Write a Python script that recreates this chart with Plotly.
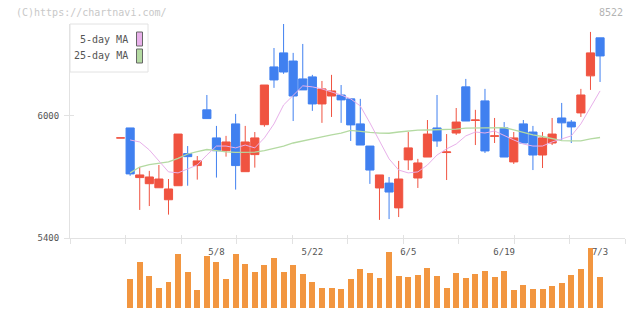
import numpy as np
import plotly.graph_objects as go

# ---------------- data ----------------
dates = ["4/19", "4/22", "4/23", "4/24", "4/25", "4/26", "4/30", "5/1", "5/2", "5/7",
         "5/8", "5/9", "5/10", "5/13", "5/14", "5/15", "5/16", "5/17", "5/20", "5/21",
         "5/22", "5/23", "5/24", "5/27", "5/28", "5/29", "5/30", "5/31", "6/3", "6/4",
         "6/5", "6/6", "6/7", "6/10", "6/11", "6/12", "6/13", "6/14", "6/17", "6/18",
         "6/19", "6/20", "6/21", "6/24", "6/25", "6/26", "6/27", "6/28", "7/1", "7/2",
         "7/3"]

open_ = [5892, 5941, 5697, 5667, 5647, 5588, 5657, 5815, 5756, 6030,
         5892, 5829, 5961, 5726, 5810, 5957, 6241, 6310, 6270, 6182,
         6192, 6059, 6098, 6103, 6084, 5961, 5852, 5646, 5670, 5548,
         5784, 5695, 5798, 5941, 5820, 5916, 6143, 5978, 6074, 5900,
         5941, 5774, 5961, 5921, 5808, 5867, 5990, 5970, 6015, 6197,
         6384]
high = [5892, 5941, 5749, 5730, 5759, 5690, 5911, 5852, 5803, 6103,
        5951, 5902, 6010, 5951, 5921, 6152, 6334, 6452, 6310, 6354,
        6202, 6172, 6202, 6152, 6084, 6084, 5852, 5710, 5700, 5779,
        5921, 5789, 5980, 6103, 5911, 6039, 6182, 6030, 6133, 5990,
        5970, 5921, 5980, 5951, 5921, 5990, 6064, 5980, 6133, 6413,
        6384]
low = [5892, 5706, 5538, 5557, 5647, 5515, 5657, 5657, 5687, 5987,
       5697, 5800, 5638, 5726, 5746, 5947, 6138, 6207, 5975, 6128,
       6025, 5966, 5995, 5966, 5877, 5857, 5666, 5489, 5493, 5503,
       5734, 5646, 5798, 5848, 5685, 5907, 5975, 5857, 5818, 5867,
       5798, 5764, 5867, 5734, 5744, 5857, 5882, 5867, 5995, 6128,
       6167]
close = [5892, 5715, 5710, 5700, 5690, 5641, 5911, 5800, 5779, 5987,
         5829, 5872, 5756, 5872, 5892, 6152, 6177, 6216, 6098, 6128,
         6059, 6133, 6123, 6079, 5956, 5857, 5734, 5710, 5626, 5690,
         5843, 5769, 5911, 5877, 5823, 5970, 5975, 5980, 5828, 5902,
         5798, 5892, 5867, 5808, 5892, 5911, 5966, 5946, 6103, 6310,
         6295]
volume = [0, 28700, 45700, 31700, 19700, 25700, 53700, 35700, 17700, 51700,
          45700, 28700, 53700, 43700, 35700, 42700, 49700, 35700, 42700, 33700,
          25700, 19700, 19700, 18700, 28700, 38700, 34700, 29700, 55700, 31700,
          30700, 32700, 39700, 31700, 19700, 34700, 29700, 33700, 36700, 30700,
          36700, 17700, 22700, 18700, 18700, 21700, 24700, 32700, 38700, 59700,
          30700]
ma5 = [None, 5882, 5872, 5833, 5779, 5725, 5720, 5739, 5759, 5808,
       5852, 5852, 5843, 5857, 5843, 5892, 5961, 6054, 6103, 6148,
       6143, 6133, 6118, 6103, 6084, 6049, 5966, 5877, 5789, 5734,
       5720, 5725, 5759, 5808, 5838, 5862, 5902, 5921, 5916, 5926,
       5902, 5882, 5862, 5852, 5852, 5872, 5887, 5902, 5961, 6044,
       6123]
ma25 = [None, 5720, 5749, 5761, 5769, 5774, 5791, 5813, 5825, 5835,
        5830, 5823, 5821, 5823, 5822, 5830, 5840, 5852, 5867, 5876,
        5887, 5897, 5907, 5915, 5929, 5923, 5919, 5916, 5915, 5921,
        5926, 5930, 5931, 5932, 5934, 5935, 5940, 5941, 5942, 5943,
        5943, 5931, 5919, 5907, 5899, 5889, 5879, 5877, 5877, 5887,
        5894]
label_dates = ["5/8", "5/22", "6/5", "6/19", "7/3"]
price_ticks = [5400, 6000]
price_range = [5400, 6452]
volume_range = [0, 70000]
code = "8522"

# ---------------- styling ----------------
UP = "#f05340"
DOWN = "#4080f0"
VOLC = "#f29640"
PINK = "#e8b0ea"
GREEN = "#b4daa2"
AX = "#e2e2e2"
TXT = "#555555"
MONO = "DejaVu Sans Mono"

pos = list(range(len(dates)))
XR = [-5.27, 52.6]
grid = list(np.linspace(XR[0], XR[1], 11))
vd = 70 / 284.0

fig = go.Figure()
fig.add_trace(go.Scatter(x=pos, y=ma25, mode="lines", line=dict(color=GREEN, width=1.3),
                         hoverinfo="skip", xaxis="x", yaxis="y"))
fig.add_trace(go.Scatter(x=pos, y=ma5, mode="lines", line=dict(color=PINK, width=1),
                         hoverinfo="skip", xaxis="x", yaxis="y"))
fig.add_trace(go.Candlestick(
    x=pos, open=open_, high=high, low=low, close=close,
    increasing=dict(line=dict(color=UP, width=1), fillcolor=UP),
    decreasing=dict(line=dict(color=DOWN, width=1), fillcolor=DOWN),
    whiskerwidth=0, xaxis="x", yaxis="y"))
fig.add_trace(go.Bar(x=pos, y=volume, marker=dict(color=VOLC, line=dict(width=0)),
                     width=0.62, xaxis="x2", yaxis="y2"))
fig.add_trace(go.Scatter(x=[], y=[], xaxis="x3", yaxis="y3", hoverinfo="skip"))

fig.update_layout(
    width=640, height=311, autosize=False,
    margin=dict(l=70, r=15, t=24, b=3, pad=0, autoexpand=False),
    paper_bgcolor="white", plot_bgcolor="white",
    showlegend=False, boxgap=0.15, boxgroupgap=0, bargap=0,
    xaxis=dict(domain=[0, 1], range=XR, anchor="y", showline=True, linecolor=AX,
               linewidth=1, ticks="outside", ticklen=5, tickcolor=AX, tickwidth=1,
               tickvals=grid, showticklabels=False, showgrid=False, zeroline=False,
               automargin=False, rangeslider=dict(visible=False)),
    xaxis3=dict(overlaying="x", anchor="y", range=XR, ticks="inside", ticklen=3,
                tickcolor=AX, tickwidth=1, tickvals=grid, showticklabels=False,
                showgrid=False, showline=False, zeroline=False, automargin=False),
    xaxis2=dict(domain=[0, 1], range=XR, anchor="y2", side="top",
                ticklabelposition="inside", ticks="", ticklabelstandoff=8,
                tickvals=[dates.index(d) for d in label_dates], ticktext=label_dates,
                tickfont=dict(family=MONO, size=9, color=TXT), automargin=False,
                showline=False, showgrid=False, zeroline=False),
    yaxis=dict(domain=[vd, 1], range=price_range, anchor="x", tickvals=price_ticks,
               ticks="outside", ticklen=5, tickcolor=AX, showline=True, linecolor=AX,
               linewidth=1, showgrid=False, zeroline=False, ticklabelstandoff=3,
               automargin=False, tickfont=dict(family=MONO, size=9, color=TXT)),
    yaxis3=dict(overlaying="y", anchor="x", range=price_range, tickvals=price_ticks,
                ticks="inside", ticklen=4, tickcolor=AX, showticklabels=False,
                showline=False, showgrid=False, zeroline=False, automargin=False),
    yaxis2=dict(domain=[0, vd], range=volume_range, visible=False, automargin=False),
)

# watermark and code
fig.add_annotation(text="(C)https://chartnavi.com/", xref="paper", yref="paper",
                   x=(14 - 70) / 555, y=(308 - 12) / 284, xanchor="left", yanchor="middle",
                   showarrow=False, font=dict(family=MONO, size=10, color="#c8c8c8"))
fig.add_annotation(text=code, xref="paper", yref="paper",
                   x=1.0, y=(308 - 12) / 284, xanchor="right", yanchor="middle",
                   showarrow=False, font=dict(family=MONO, size=10, color="#b4b4b4"))

# legend box
def px(xp):
    return (xp - 70) / 555.0

def py(yp):
    return (308 - yp) / 284.0

fig.add_shape(type="rect", xref="paper", yref="paper", x0=px(70), x1=px(148),
              y0=py(72), y1=py(24), line=dict(color=AX, width=1), fillcolor="white",
              layer="above")
for name, col, yc in [("5-day MA", PINK, 39), ("25-day MA", GREEN, 56)]:
    fig.add_annotation(text=name, xref="paper", yref="paper", x=px(130), y=py(yc),
                       xanchor="right", yanchor="middle", showarrow=False,
                       font=dict(family=MONO, size=10, color=TXT))
    fig.add_shape(type="rect", xref="paper", yref="paper", x0=px(136.5), x1=px(142.5),
                  y0=py(yc + 7), y1=py(yc - 7), line=dict(color="#666666", width=1),
                  fillcolor=col, layer="above")

fig.write_html("out.html")
